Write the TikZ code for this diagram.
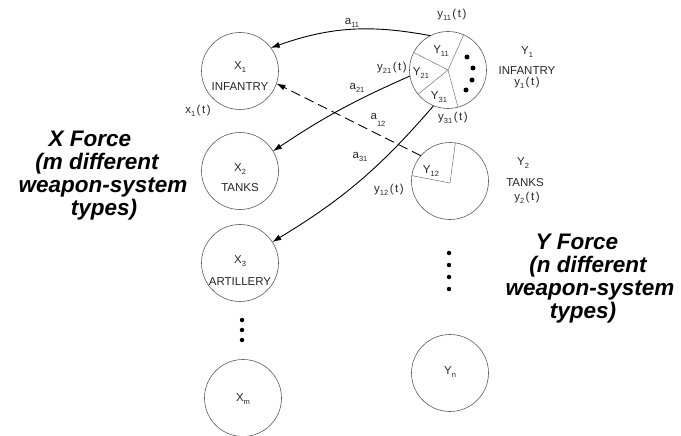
\documentclass[tikz,border=0pt]{standalone}
\usepackage{fontspec}
\setmainfont{Liberation Sans}
\usetikzlibrary{arrows.meta}
% lowered subscript for the small lettering
\newcommand\lsub[1]{\raisebox{-3pt}{\fontsize{7.5}{8}\selectfont #1}}
\newcommand\tpar{\hspace{1.5pt}(\hspace{1.6pt}t\hspace{1.6pt})}

\begin{document}
\begin{tikzpicture}[x=1pt,y=1pt,
  unit/.style={circle,draw=black!65,line width=0.6pt,minimum size=77pt,inner sep=0pt,outer sep=0pt},
  lbl/.style={font=\fontsize{11.5}{13}\selectfont,inner sep=0pt,text=black!85},
  fire/.style={line width=0.9pt,-{Latex[length=9pt,width=6pt]}},
  force/.style={font=\fontsize{22.5}{23}\selectfont\bfseries\itshape,align=center,inner sep=0pt},
  dot/.style={circle,fill=black,inner sep=0pt,minimum size=5pt},
  part/.style={draw=black!55,line width=0.5pt}]

\useasboundingbox (0,0) rectangle (681,-436);

% weapon-system units of the X force
\node[unit] (X1) at (240,-71) {};
\node[unit] (X2) at (240,-171) {};
\node[unit] (X3) at (240,-263) {};
\node[unit] (Xm) at (243,-398) {};

% weapon-system units of the Y force
\node[unit] (Y1) at (448,-70) {};
\node[unit] (Y2) at (450,-181) {};
\node[unit] (Yn) at (450,-373) {};

% allocation of Y1 fire among the X types
\draw[part] (Y1.center) -- (Y1.153);
\draw[part] (Y1.center) -- (Y1.66);
\draw[part] (Y1.center) -- (Y1.-75);
\draw[part] (Y1.center) -- (Y1.-141);
\node[dot] (d1) at (467,-57) {};
\node[dot] (d2) at (473,-68) {};
\node[dot] (d3) at (472,-80) {};
\node[dot] (d4) at (466,-90) {};

% allocation of Y2 fire
\coordinate (Y2c) at (450,-183);
\draw[part] (Y2c) -- (Y2.82);
\draw[part] (Y2c) -- (Y2.172);

% labels inside the circles
\node[lbl] (X1a) at (240,-67) {X\lsub{1}};
\node[lbl] (X1b) at (240,-87) {INFANTRY};
\node[lbl] (X2a) at (240,-169) {X\lsub{2}};
\node[lbl] (X2b) at (240,-188) {TANKS};
\node[lbl] (X3a) at (240,-261) {X\lsub{3}};
\node[lbl] (X3b) at (240,-282) {ARTILLERY};
\node[lbl] (Xma) at (243,-399) {X\lsub{m}};
\node[lbl] (Yna) at (450,-372) {Y\lsub{n}};
\node[lbl] (Y11) at (441,-51) {Y\lsub{11}};
\node[lbl] (Y21) at (421,-73) {Y\lsub{21}};
\node[lbl] (Y31) at (439,-97) {Y\lsub{31}};
\node[lbl] (Y12) at (431,-171) {Y\lsub{12}};

% side labels of the Y types
\node[lbl] (Y1a) at (527,-52) {Y\lsub{1}};
\node[lbl] (Y1b) at (527,-71) {INFANTRY};
\node[lbl] (Y1c) at (527,-83) {y\lsub{1}\tpar};
\node[lbl] (Y2a) at (523,-163) {Y\lsub{2}};
\node[lbl] (Y2b) at (525,-183) {TANKS};
\node[lbl] (Y2d) at (527,-198) {y\lsub{2}\tpar};

% force levels
\node[lbl] (x1t) at (198,-111) {x\lsub{1}\tpar};
\node[lbl] (y11t) at (452,-15) {y\lsub{11}\tpar};
\node[lbl] (y21t) at (392,-68) {y\lsub{21}\tpar};
\node[lbl] (y31t) at (453,-118) {y\lsub{31}\tpar};
\node[lbl] (y12t) at (389,-190) {y\lsub{12}\tpar};

% attrition coefficients
\node[lbl] (a11) at (352,-23) {a\lsub{11}};
\node[lbl] (a21) at (357,-88) {a\lsub{21}};
\node[lbl] (a31) at (360,-157) {a\lsub{31}};
\node[lbl] (a12) at (378,-120) {a\raisebox{-7pt}{\fontsize{7.5}{8}\selectfont 12}};

% fire from Y onto X
\draw[fire] (Y1.117) to[bend right=15] (X1.37);
\draw[fire] (Y1.189) to[bend right=5] (X2.31);
\draw[fire] (Y1.248) to[bend left=9] (X3.33);
\draw[fire,dash pattern=on 10pt off 5pt] (Y2.139) -- (X1.-19);

% further types
\node[dot,minimum size=4.5pt] (xd1) at (242,-320) {};
\node[dot,minimum size=4.5pt] (xd2) at (242,-330) {};
\node[dot,minimum size=4.5pt] (xd3) at (242,-340) {};
\node[dot,minimum size=4.5pt] (yd1) at (449,-253) {};
\node[dot,minimum size=4.5pt] (yd2) at (449,-265) {};
\node[dot,minimum size=4.5pt] (yd3) at (449,-277) {};
\node[dot,minimum size=4.5pt] (yd4) at (449,-289) {};

% force captions
\node[force] (XF) at (97,-176) {X Force\hspace*{14pt}\\(m different\hspace*{16pt}\\\hspace*{12pt}weapon-system\\\hspace*{14pt}types)};
\node[force] (YF) at (585,-279) {Y Force\hspace*{16pt}\\\hspace*{6pt}(n different\\\hspace*{10pt}weapon-system\\types)\hspace*{4pt}};
\end{tikzpicture}
\end{document}
